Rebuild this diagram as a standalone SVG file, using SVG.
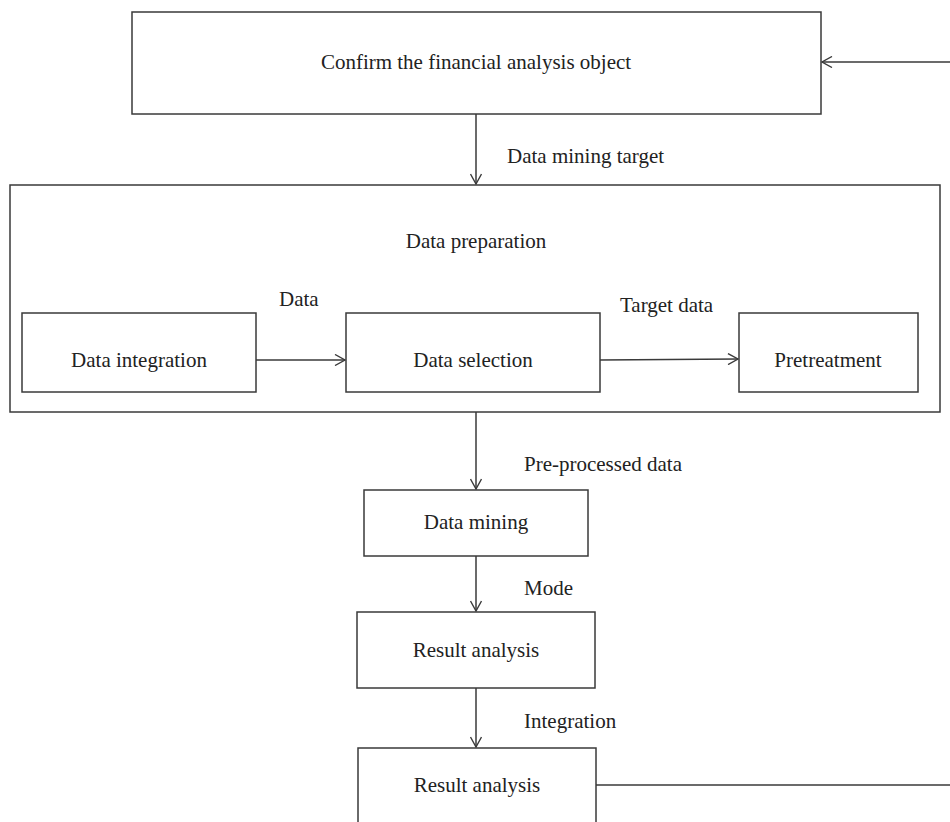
<svg xmlns="http://www.w3.org/2000/svg" width="950" height="822" viewBox="0 0 950 822">
  <style>
    .box { fill: #ffffff; stroke: #3a3a3a; stroke-width: 1.5; }
    .lbl { font-family: "Liberation Serif", "Times New Roman", serif; font-size: 21px; fill: #222222; }
    .mid { text-anchor: middle; }
    .edge { fill: none; stroke: #3a3a3a; stroke-width: 1.5; }
  </style>
  <defs>
    <marker id="vhead" viewBox="0 0 12 12" refX="11" refY="6" markerWidth="12" markerHeight="12" markerUnits="userSpaceOnUse" orient="auto">
      <path d="M1,0.5 L11,6 L1,11.5" fill="none" stroke="#3a3a3a" stroke-width="1.4"/>
    </marker>
  </defs>
  <rect width="950" height="822" fill="#ffffff"/>

  <!-- outer container for data preparation -->
  <g id="data-preparation">
    <rect class="box" x="10" y="185" width="930" height="227"/>
    <text class="lbl mid" x="476" y="248">Data preparation</text>
  </g>

  <g id="confirm-object">
    <rect class="box" x="132" y="12" width="689" height="102"/>
    <text class="lbl mid" x="476" y="69">Confirm the financial analysis object</text>
  </g>

  <g id="data-integration">
    <rect class="box" x="22" y="313" width="234" height="79"/>
    <text class="lbl mid" x="139" y="367">Data integration</text>
  </g>

  <g id="data-selection">
    <rect class="box" x="346" y="313" width="254" height="79"/>
    <text class="lbl mid" x="473" y="367">Data selection</text>
  </g>

  <g id="pretreatment">
    <rect class="box" x="739" y="313" width="179" height="79"/>
    <text class="lbl mid" x="828" y="367">Pretreatment</text>
  </g>

  <g id="data-mining">
    <rect class="box" x="364" y="490" width="224" height="66"/>
    <text class="lbl mid" x="476" y="529">Data mining</text>
  </g>

  <g id="result-analysis-1">
    <rect class="box" x="357" y="612" width="238" height="76"/>
    <text class="lbl mid" x="476" y="657">Result analysis</text>
  </g>

  <g id="result-analysis-2">
    <rect class="box" x="358" y="748" width="238" height="84"/>
    <text class="lbl mid" x="477" y="792">Result analysis</text>
  </g>

  <g id="connectors">
    <line class="edge" x1="950" y1="62" x2="822" y2="62" marker-end="url(#vhead)"/>
    <line class="edge" x1="476" y1="114" x2="476" y2="184" marker-end="url(#vhead)"/>
    <line class="edge" x1="256" y1="360" x2="345" y2="360" marker-end="url(#vhead)"/>
    <line class="edge" x1="600" y1="360" x2="738" y2="359" marker-end="url(#vhead)"/>
    <line class="edge" x1="476" y1="412" x2="476" y2="489" marker-end="url(#vhead)"/>
    <line class="edge" x1="476" y1="556" x2="476" y2="611" marker-end="url(#vhead)"/>
    <line class="edge" x1="476" y1="688" x2="476" y2="747" marker-end="url(#vhead)"/>
    <line class="edge" x1="596" y1="785" x2="950" y2="785"/>

    <text class="lbl" x="507" y="163">Data mining target</text>
    <text class="lbl" x="279" y="306">Data</text>
    <text class="lbl" x="620" y="312">Target data</text>
    <text class="lbl" x="524" y="471">Pre-processed data</text>
    <text class="lbl" x="524" y="595">Mode</text>
    <text class="lbl" x="524" y="728">Integration</text>
  </g>
</svg>
